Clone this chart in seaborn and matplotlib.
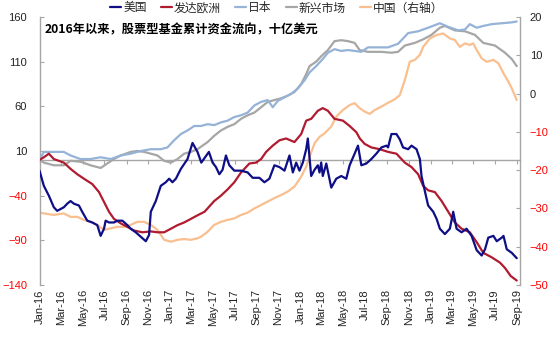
import numpy as np
import pandas as pd
import matplotlib
matplotlib.use("Agg")
import matplotlib.pyplot as plt
import matplotlib.dates as mdates
import seaborn as sns

# ---------------- data (months since Jan-2016, value) ----------------
us_m = [0.00, 0.40, 0.86, 1.32, 1.63, 2.24, 2.55, 2.86, 3.17, 3.63, 3.93, 4.40, 4.86, 5.32, 5.63,
        5.94, 6.09, 6.40, 6.86, 7.17, 7.63, 8.09, 8.40, 8.86, 9.33, 9.79, 10.09, 10.25, 10.71, 11.17,
        11.63, 11.94, 12.24, 12.56, 13.02, 13.63, 14.09, 14.55, 14.90, 15.60, 15.94, 16.25, 16.56, 16.86,
        17.17, 17.48, 17.94, 18.56, 19.17, 19.63, 20.25, 20.71, 21.17, 21.63, 22.10, 22.56, 23.02, 23.33,
        23.64, 23.94, 24.25, 24.56, 24.71, 25.02, 25.33, 25.63, 25.79, 25.94, 26.09, 26.41, 26.87, 27.33,
        27.79, 28.25, 28.56, 29.02, 29.33, 29.64, 30.10, 30.56, 31.02, 31.49, 31.95, 32.10, 32.41, 32.87,
        33.18, 33.48, 33.95, 34.26, 34.72, 35.03, 35.18, 35.49, 35.79, 36.26, 36.57, 36.87, 37.33, 37.79,
        38.10, 38.41, 38.87, 39.33, 39.79, 40.26, 40.72, 41.03, 41.33, 41.80, 42.11, 42.57, 42.73, 43.03,
        43.49, 43.95]
us_v = [-12, -29, -40, -53, -57, -53, -49, -46, -49, -51, -58, -68, -70, -73, -85,
        -77, -68, -70, -70, -68, -68, -73, -77, -81, -86, -91, -84, -58, -46, -29,
        -25, -21, -25, -21, -10, 1, 19, 9, -3, 9, -3, -8, -16, -11,
        5, -6, -12, -12, -14, -20, -20, -25, -21, -6, -8, -12, 5, -14,
        -3, -12, -3, 12, 24, -18, -11, -6, -14, -3, -18, -4, -31, -21,
        -18, -21, -6, 7, 16, -6, -4, 1, 7, 14, 16, 14, 29, 29,
        23, 14, 12, 16, 12, 1, -18, -35, -51, -58, -66, -77, -83, -77,
        -58, -77, -81, -77, -85, -101, -107, -100, -87, -85, -91, -87, -85, -100,
        -104, -110]

eu_m = [0.00, 0.40, 0.86, 1.32, 1.78, 2.24, 2.86, 3.48, 4.09, 4.86, 5.48, 5.94, 6.40, 6.86, 7.48,
        8.09, 8.71, 9.47, 10.25, 10.86, 11.48, 12.10, 12.71, 13.32, 13.94, 14.55, 15.20, 16.09, 16.71,
        17.32, 17.94, 18.56, 19.33, 19.94, 20.41, 20.87, 21.48, 22.10, 22.71, 23.48, 24.10, 24.56, 25.02,
        25.63, 26.09, 26.56, 27.17, 27.94, 28.56, 29.18, 29.50, 29.94, 30.56, 31.33, 32.10, 32.87, 33.64,
        34.26, 34.87, 35.33, 35.79, 36.41, 37.03, 37.64, 38.25, 38.87, 39.63, 40.26, 40.87, 41.64, 42.41,
        42.87, 43.40, 43.95]
eu_v = [0, 3, 7, 1, -1, -3, -10, -16, -21, -27, -36, -47, -58, -66, -71,
        -75, -79, -81, -80, -81, -81, -77, -73, -70, -66, -62, -58, -46, -40,
        -33, -25, -14, -4, -3, 1, 9, 16, 22, 24, 20, 29, 44, 46,
        55, 58, 55, 46, 44, 38, 31, 24, 18, 14, 12, 9, 7, -3,
        -8, -16, -29, -34, -36, -46, -58, -70, -77, -81, -92, -104, -109, -115,
        -121, -130, -135]

jp_m = [0.00, 0.40, 1.32, 2.24, 2.86, 3.78, 4.70, 5.63, 6.55, 7.48, 8.40, 9.33, 10.25, 11.17, 11.78,
        12.40, 13.02, 13.63, 14.25, 14.87, 15.48, 16.09, 16.71, 17.32, 17.94, 18.56, 19.17, 19.79, 20.41,
        21.02, 21.48, 21.94, 22.56, 23.18, 23.79, 24.40, 24.87, 25.48, 26.09, 26.56, 27.17, 27.79, 28.41,
        29.02, 29.64, 30.25, 31.17, 32.10, 33.02, 33.95, 34.87, 35.79, 36.87, 37.64, 38.56, 39.18, 39.63,
        40.26, 40.87, 41.64, 42.57, 43.49, 43.95]
jp_v = [0, 9, 9, 9, 5, 1, 1, 3, 1, 5, 7, 10, 12, 12, 14,
        22, 29, 33, 38, 38, 40, 39, 42, 44, 48, 50, 53, 61, 65,
        67, 59, 66, 70, 74, 80, 89, 98, 105, 113, 120, 124, 122, 123,
        122, 121, 126, 126, 126, 130, 142, 144, 148, 153, 149, 145, 146, 152,
        148, 150, 152, 153, 154, 155]

em_m = [0.00, 0.40, 1.32, 2.24, 2.86, 3.78, 4.70, 5.63, 6.24, 6.86, 7.48, 8.40, 9.01, 9.63, 10.25,
        10.86, 11.48, 12.10, 12.71, 13.32, 13.94, 14.55, 14.90, 15.48, 16.09, 16.71, 17.32, 17.94, 18.56,
        19.17, 19.79, 20.41, 21.02, 21.63, 22.25, 22.86, 23.48, 24.10, 24.56, 24.87, 25.48, 25.94, 26.56,
        27.17, 27.79, 28.41, 29.02, 29.48, 30.25, 31.49, 32.41, 33.02, 33.64, 34.56, 35.33, 36.10, 36.87,
        37.33, 38.25, 39.18, 40.10, 40.87, 41.95, 42.87, 43.49, 43.95]
em_v = [0, -3, -6, -6, -1, -2, -6, -9, -4, 1, 5, 9, 10, 9, 7,
        5, -1, -3, 1, 7, 9, 12, 15, 20, 27, 33, 37, 40, 46,
        50, 53, 59, 65, 67, 69, 72, 76, 85, 96, 105, 110, 116, 123,
        133, 134, 133, 131, 123, 121, 121, 120, 121, 128, 131, 135, 140, 148,
        150, 145, 144, 140, 131, 128, 120, 113, 105]

cn_m = [0.00, 0.40, 1.32, 2.24, 2.86, 3.48, 4.09, 4.70, 5.32, 5.94, 6.55, 7.17, 7.78, 8.40, 9.01,
        9.63, 10.25, 10.86, 11.48, 12.10, 12.71, 13.32, 13.94, 14.55, 14.87, 15.48, 16.09, 16.71, 17.32,
        17.94, 18.56, 19.17, 19.79, 20.41, 21.02, 21.63, 22.25, 22.86, 23.48, 24.10, 24.56, 24.87, 25.33,
        25.79, 26.25, 26.87, 27.33, 27.94, 28.56, 29.02, 29.48, 29.94, 30.41, 30.87, 31.49, 32.10, 32.72,
        33.18, 33.64, 34.10, 34.56, 35.03, 35.33, 35.95, 36.57, 37.18, 37.79, 38.25, 38.71, 39.18, 39.63,
        39.94, 40.26, 40.72, 41.18, 41.80, 42.26, 42.73, 43.18, 43.49, 43.95]
cn_v = [-31.1, -31.3, -31.7, -31.3, -32.2, -32.2, -33.0, -33.5, -34.3, -35.6, -35.2, -34.8, -34.8, -34.3, -33.5,
        -33.5, -34.3, -35.6, -38.2, -38.7, -38.2, -38.0, -38.2, -37.8, -37.4, -36.1, -34.3, -33.5, -33.0,
        -32.6, -31.7, -31.1, -30.0, -29.1, -28.2, -27.3, -26.5, -25.6, -24.3, -21.7, -19.1, -16.5, -13.0,
        -11.3, -10.4, -8.6, -6.0, -4.3, -3.0, -2.5, -3.8, -4.7, -5.3, -4.3, -3.4, -2.4, -1.5,
        -0.4, 3.5, 8.3, 8.8, 10.1, 12.2, 14.4, 15.3, 15.7, 14.4, 14.0, 12.2, 13.1, 12.7,
        13.1, 11.4, 9.2, 8.3, 8.8, 7.9, 5.3, 3.1, 1.4, -1.7]

names = ["美国", "发达欧洲", "日本", "新兴市场", "中国（右轴）"]
colors = ["#0E0E86", "#B01B30", "#95B3D7", "#A6A6A6", "#F9BF8F"]
left_ticks = [-140, -90, -40, 10, 60, 110, 160]
right_ticks = [-50, -40, -30, -20, -10, 0, 10, 20]
title = "2016年以来，股票型基金累计资金流向，十亿美元"

# ---------------- style ----------------
sns.set_style("white")
plt.rcParams["font.family"] = ["Liberation Sans", "Noto Sans CJK SC", "DejaVu Sans"]
CJK = ["Noto Sans CJK SC", "DejaVu Sans"]
START = pd.Timestamp("2016-01-01")


def to_dates(m):
    return START + pd.to_timedelta(np.asarray(m) * 30.4375, unit="D")


W, H = 554, 340
fig = plt.figure(figsize=(W / 100, H / 100), dpi=100)
L, R, T, B = 39.5, 520, 17, 285
ax = fig.add_axes([L / W, 1 - B / H, (R - L) / W, (B - T) / H])
ax2 = ax.twinx()

LW = 1.6
series = [(us_m, us_v), (eu_m, eu_v), (jp_m, jp_v), (em_m, em_v)]
order = [3, 2, 1, 0]  # draw EM, Japan, Europe, US (US on top)
for i in order:
    m, v = series[i]
    df = pd.DataFrame({"date": to_dates(m), "val": v})
    sns.lineplot(data=df, x="date", y="val", ax=ax, color=colors[i], lw=LW,
                 label=names[i], zorder=2 + (3 - order.index(i)) * 0 + order.index(i))
dfc = pd.DataFrame({"date": to_dates(cn_m), "val": cn_v})
sns.lineplot(data=dfc, x="date", y="val", ax=ax2, color=colors[4], lw=LW, label=names[4])

ax.set_zorder(ax2.get_zorder() + 1)
ax.patch.set_visible(False)

# axes limits / ticks
xmin = START
xmax = to_dates([44.25])[0]
ax.set_xlim(xmin, xmax)
ax.set_ylim(-140, 160)
ax2.set_ylim(-50, 20)
ax.set_yticks(left_ticks)
ax2.set_yticks(right_ticks)
ax.set_xlabel("")
ax.set_ylabel("")
ax2.set_ylabel("")

ax.xaxis.set_major_locator(mdates.MonthLocator(bymonth=[1, 3, 5, 7, 9, 11]))
ax.xaxis.set_major_formatter(mdates.DateFormatter("%b-%y"))
ax.tick_params(axis="x", length=0, pad=3, labelsize=8, rotation=90, colors="#222222")
ax.tick_params(axis="y", direction="in", length=3, width=0.8, color="#A6A6A6", pad=9, labelsize=8)
ax2.tick_params(axis="y", direction="in", length=3, width=0.8, color="#A6A6A6", pad=7, labelsize=8)

for lab, val in zip(ax.get_yticklabels(), left_ticks):
    lab.set_color("#FF0000" if val < 0 else "#222222")
for lab, val in zip(ax2.get_yticklabels(), right_ticks):
    lab.set_color("#FF0000" if val < 0 else "#222222")

for a in (ax, ax2):
    for s in ("top", "bottom"):
        a.spines[s].set_visible(False)
    a.grid(False)
ax.spines["left"].set_color("#A6A6A6")
ax.spines["left"].set_linewidth(1.0)
ax.spines["right"].set_visible(False)
ax2.spines["left"].set_visible(False)
ax2.spines["right"].set_color("#A6A6A6")
ax2.spines["right"].set_linewidth(1.0)

# zero line with small tick marks
zero_frac = (0 - (-140)) / 300
sec = ax.secondary_xaxis(zero_frac)
sec.xaxis.set_major_locator(mdates.MonthLocator(bymonth=[1, 3, 5, 7, 9, 11]))
sec.tick_params(axis="x", direction="out", length=3, width=0.8, color="#A6A6A6", labelbottom=False, labeltop=False)
for s in sec.spines.values():
    s.set_color("#A6A6A6")
    s.set_linewidth(1.0)

# title text inside the plot
ax.text(0.011, 0.951, title, transform=ax.transAxes, ha="left", va="center",
        fontsize=8.8, fontweight="bold", family=CJK, color="#000000")

# legend
h1, l1 = ax.get_legend_handles_labels()
h2, l2 = ax2.get_legend_handles_labels()
hmap = dict(zip(l1 + l2, h1 + h2))
for a in (ax, ax2):
    if a.get_legend() is not None:
        a.get_legend().remove()
handles = [hmap[n] for n in names]
fig.legend(handles, names, loc="center", bbox_to_anchor=(0.5, 1 - 8 / H), ncol=5, frameon=False,
           handlelength=0.9, handletextpad=0.2, columnspacing=1.2, borderaxespad=0,
           prop={"family": CJK, "size": 8.5})

fig.savefig("out.png", dpi=100)
